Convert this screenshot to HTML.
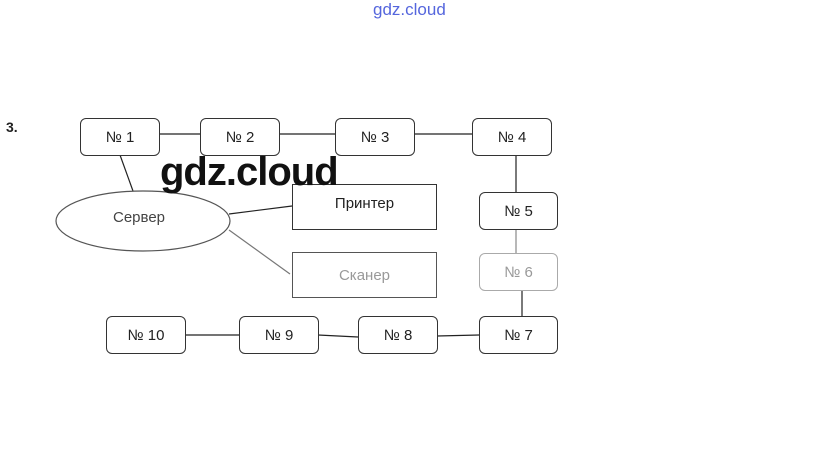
<!DOCTYPE html>
<html><head><meta charset="utf-8"><style>
body{margin:0;width:823px;height:457px;background:#fff;overflow:hidden;position:relative;font-family:"Liberation Sans","DejaVu Sans",sans-serif}
.b{position:absolute;box-sizing:border-box;border:1px solid #333;border-radius:6px;display:flex;align-items:center;justify-content:center;font-size:15px;color:#222;background:#fff}
.r{border-radius:0}
</style></head><body>
<div style="position:absolute;left:373px;top:0px;font-size:17px;color:#5566dd;">gdz.cloud</div>
<div style="position:absolute;left:6px;top:119px;font-size:14px;font-weight:bold;color:#222">3.</div>
<svg width="823" height="457" style="position:absolute;left:0;top:0">
<g stroke="#222" stroke-width="1.2" fill="none">
<line x1="159" y1="134" x2="200" y2="134"/>
<line x1="279" y1="134" x2="335" y2="134"/>
<line x1="414" y1="134" x2="472" y2="134"/>
<line x1="516" y1="155" x2="516" y2="192"/>
<line x1="516" y1="229" x2="516" y2="253" stroke="#888"/>
<line x1="522" y1="290" x2="522" y2="316"/>
<line x1="437" y1="336" x2="479" y2="335"/>
<line x1="318" y1="335" x2="358" y2="337"/>
<line x1="185" y1="335" x2="239" y2="335"/>
<line x1="120" y1="155" x2="133" y2="191"/>
<line x1="229" y1="214" x2="292" y2="206"/>
<line x1="229" y1="230" x2="290" y2="274" stroke="#777"/>
<ellipse cx="143" cy="221" rx="87" ry="30" stroke="#555"/>
</g></svg>
<div style="position:absolute;left:113px;top:209px;font-size:15px;color:#444">Сервер</div>
<div class="b" style="left:80px;top:118px;width:80px;height:38px">№ 1</div>
<div class="b" style="left:200px;top:118px;width:80px;height:38px">№ 2</div>
<div class="b" style="left:335px;top:118px;width:80px;height:38px">№ 3</div>
<div class="b" style="left:472px;top:118px;width:80px;height:38px">№ 4</div>
<div class="b" style="left:479px;top:192px;width:79px;height:38px">№ 5</div>
<div class="b" style="left:479px;top:253px;width:79px;height:38px;border-color:#aaa;color:#999">№ 6</div>
<div class="b" style="left:479px;top:316px;width:79px;height:38px">№ 7</div>
<div class="b" style="left:358px;top:316px;width:80px;height:38px">№ 8</div>
<div class="b" style="left:239px;top:316px;width:80px;height:38px">№ 9</div>
<div class="b" style="left:106px;top:316px;width:80px;height:38px">№ 10</div>
<div class="b r" style="left:292px;top:184px;width:145px;height:46px;align-items:flex-start;padding-top:10px">Принтер</div>
<div class="b r" style="left:292px;top:252px;width:145px;height:46px;color:#999;border-color:#555">Сканер</div>
<div style="position:absolute;left:160px;top:150px;font-size:40px;font-weight:bold;color:#111;letter-spacing:-1px;background:transparent">gdz.cloud</div>
</body></html>
